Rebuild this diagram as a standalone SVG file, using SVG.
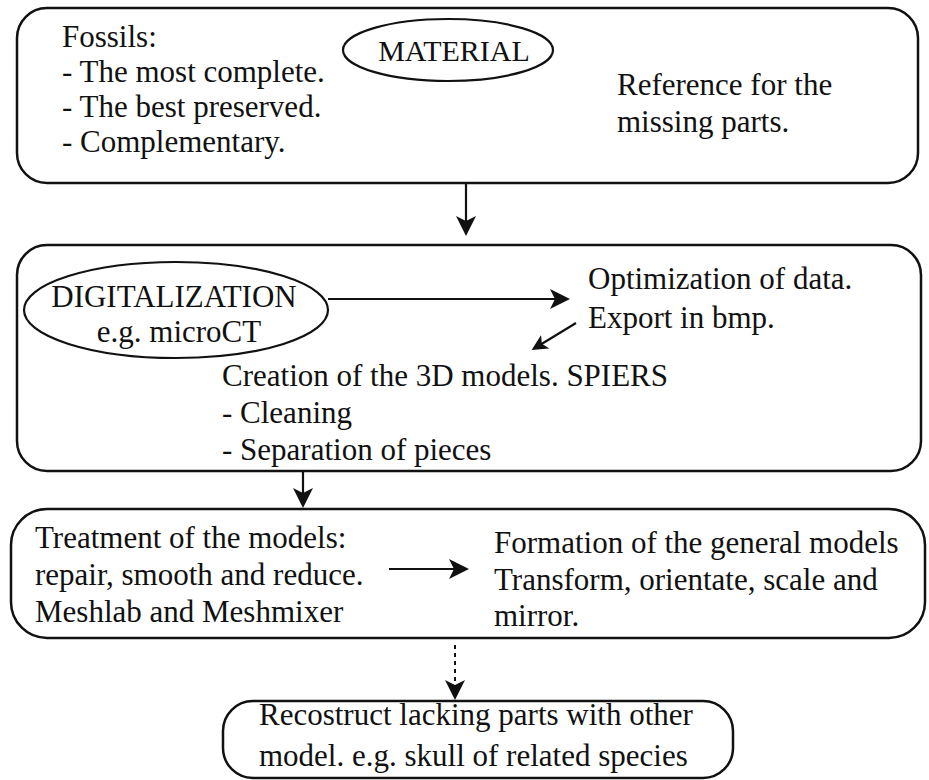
<svg xmlns="http://www.w3.org/2000/svg" width="929" height="780" viewBox="0 0 929 780">
<style>
.box{fill:#fff;stroke:#111;stroke-width:2.5}
.ell{fill:#fff;stroke:#111;stroke-width:2.2}
.t{font-family:"Liberation Serif","Times New Roman",serif;font-size:31px;fill:#111}
.c{text-anchor:middle}
.ln{stroke:#111;stroke-width:2.2;fill:none}
.dot{stroke:#111;stroke-width:2;fill:none;stroke-dasharray:4 4}
</style>
<defs>
<marker id="ah" markerUnits="userSpaceOnUse" markerWidth="22" markerHeight="22" refX="16" refY="10" orient="auto" viewBox="0 0 22 22">
<path d="M0,0 L20,10 L0,20 L5,10 Z" fill="#111"/>
</marker>
<marker id="ahs" markerUnits="userSpaceOnUse" markerWidth="18" markerHeight="18" refX="12" refY="8" orient="auto" viewBox="0 0 18 18">
<path d="M0,0 L16,8 L0,16 L4,8 Z" fill="#111"/>
</marker>
</defs>
<rect width="929" height="780" fill="#fff"/>

<g id="material">
<rect class="box" x="17" y="8" width="901" height="175" rx="30" ry="30"/>
<ellipse class="ell" cx="448" cy="50" rx="105" ry="31"/>
<text class="t c" x="454" y="61" style="font-size:30px">MATERIAL</text>
<text class="t" x="62" y="47">Fossils:</text>
<text class="t" x="62" y="82">- The most complete.</text>
<text class="t" x="62" y="117">- The best preserved.</text>
<text class="t" x="62" y="152">- Complementary.</text>
<text class="t" x="617" y="95">Reference for the</text>
<text class="t" x="617" y="132">missing parts.</text>
</g>

<g id="digitalization">
<rect class="box" x="17" y="245" width="904" height="226" rx="30" ry="30"/>
<ellipse class="ell" cx="176" cy="310" rx="152" ry="48"/>
<text class="t c" x="174" y="307">DIGITALIZATION</text>
<text class="t c" x="179" y="342">e.g. microCT</text>
<text class="t" x="588" y="289">Optimization of data.</text>
<text class="t" x="588" y="328">Export in bmp.</text>
<text class="t" x="222" y="386">Creation of the 3D models. SPIERS</text>
<text class="t" x="222" y="423">- Cleaning</text>
<text class="t" x="222" y="460">- Separation of pieces</text>
</g>

<g id="treatment">
<rect class="box" x="11" y="509" width="914" height="129" rx="36" ry="36"/>
<text class="t" x="35" y="548">Treatment of the models:</text>
<text class="t" x="35" y="585">repair, smooth and reduce.</text>
<text class="t" x="35" y="622">Meshlab and Meshmixer</text>
<text class="t" x="494" y="553">Formation of the general models</text>
<text class="t" x="494" y="590">Transform, orientate, scale and</text>
<text class="t" x="494" y="626">mirror.</text>
</g>

<g id="reconstruct">
<rect class="box" x="223" y="701" width="510" height="77" rx="30" ry="30"/>
<text class="t" x="259" y="725">Recostruct lacking parts with other</text>
<text class="t" x="259" y="766">model. e.g. skull of related species</text>
</g>

<g id="connectors">
<line class="ln" x1="466" y1="183" x2="466" y2="232" marker-end="url(#ah)"/>
<line class="ln" x1="328" y1="299" x2="566" y2="299" marker-end="url(#ah)"/>
<line class="ln" x1="576" y1="323" x2="535" y2="348" marker-end="url(#ahs)"/>
<line class="ln" x1="303" y1="471" x2="303" y2="504" marker-end="url(#ah)"/>
<line class="ln" x1="389" y1="569" x2="465" y2="569" marker-end="url(#ah)"/>
<line class="dot" x1="455" y1="645" x2="455" y2="696" marker-end="url(#ah)"/>
</g>
</svg>
